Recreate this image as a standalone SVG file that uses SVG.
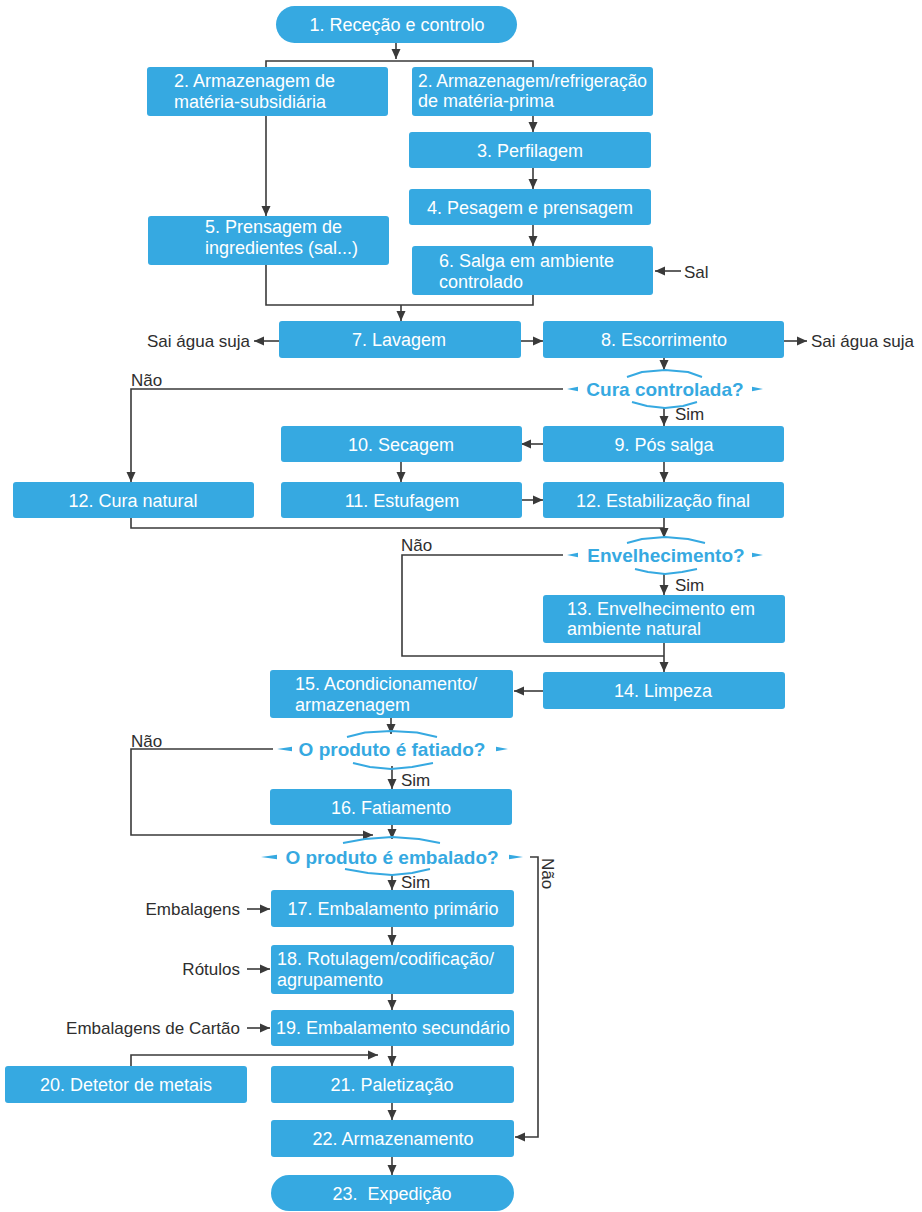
<svg xmlns="http://www.w3.org/2000/svg" width="922" height="1212" viewBox="0 0 922 1212">
  <defs>
    <marker id="arr" markerUnits="userSpaceOnUse" markerWidth="10" markerHeight="10" refX="10" refY="5" orient="auto">
      <path d="M0,0.5 L10,5 L0,9.5 z" fill="#3a3a3a"/>
    </marker>
    <style>
      .box { fill: #36A9E1; }
      .t { font-family: "Liberation Sans", Arial, sans-serif; font-size: 18px; fill: #ffffff; }
      .c { text-anchor: middle; }
      .lbl { font-family: "Liberation Sans", Arial, sans-serif; font-size: 17px; fill: #2e2e2e; }
      .q { font-family: "Liberation Sans", Arial, sans-serif; font-size: 19px; font-weight: bold; fill: #36A9E1; text-anchor: middle; }
      .ln { fill: none; stroke: #3a3a3a; stroke-width: 1.6; }
      .ar { marker-end: url(#arr); }
      .dia { fill: none; stroke: #36A9E1; stroke-width: 2; stroke-linejoin: round; }
      .tip { fill: #36A9E1; }
    </style>
  </defs>
  <rect width="922" height="1212" fill="#ffffff"/>

  <!-- connectors -->
  <g id="connectors">
    <path class="ln ar" d="M396,43 V59"/>
    <path class="ln" d="M266,67 V61 H533 V67"/>
    <path class="ln ar" d="M266,116 V216"/>
    <path class="ln ar" d="M533,116 V132"/>
    <path class="ln ar" d="M533,168 V189"/>
    <path class="ln ar" d="M533,225 V246"/>
    <path class="ln ar" d="M681,271 H655"/>
    <path class="ln" d="M266,265 V305 H533 V295"/>
    <path class="ln ar" d="M401,305 V321"/>
    <path class="ln ar" d="M279,341 H254"/>
    <path class="ln ar" d="M521,341 H543"/>
    <path class="ln ar" d="M784,341 H807"/>
    <path class="ln ar" d="M664,358 V370"/>
    <path class="ln ar" d="M563,389 H131 V482"/>
    <path class="ln ar" d="M664,408 V426"/>
    <path class="ln ar" d="M543,444 H521"/>
    <path class="ln ar" d="M401,462 V482"/>
    <path class="ln ar" d="M522,500 H543"/>
    <path class="ln ar" d="M664,462 V482"/>
    <path class="ln" d="M131,518 V528 H664"/>
    <path class="ln ar" d="M664,518 V538"/>
    <path class="ln" d="M563,555 H402 V656 H664"/>
    <path class="ln ar" d="M664,574 V595"/>
    <path class="ln ar" d="M664,643 V672"/>
    <path class="ln ar" d="M543,691 H514"/>
    <path class="ln ar" d="M391,718 V734"/>
    <path class="ln ar" d="M273,749 H131 V835 H373"/>
    <path class="ln ar" d="M392,766 V789"/>
    <path class="ln ar" d="M392,825 V839"/>
    <path class="ln ar" d="M530,857 H538 V1137 H515"/>
    <path class="ln ar" d="M392,875 V890"/>
    <path class="ln ar" d="M392,927 V945"/>
    <path class="ln ar" d="M392,994 V1010"/>
    <path class="ln ar" d="M392,1046 V1066"/>
    <path class="ln ar" d="M131,1066 V1055 H378"/>
    <path class="ln ar" d="M392,1103 V1120"/>
    <path class="ln ar" d="M392,1157 V1175"/>
    <path class="ln ar" d="M247,909 H270"/>
    <path class="ln ar" d="M247,969 H270"/>
    <path class="ln ar" d="M247,1028 H270"/>
  </g>

  <!-- side labels -->
  <g id="labels">
    <text class="lbl" x="684" y="278">Sal</text>
    <text class="lbl" x="147" y="347">Sai água suja</text>
    <text class="lbl" x="811" y="347">Sai água suja</text>
    <text class="lbl" x="131" y="386">Não</text>
    <text class="lbl" x="675" y="420">Sim</text>
    <text class="lbl" x="401" y="551">Não</text>
    <text class="lbl" x="675" y="591">Sim</text>
    <text class="lbl" x="131" y="747">Não</text>
    <text class="lbl" x="401" y="786">Sim</text>
    <text class="lbl" x="401" y="888">Sim</text>
    <text class="lbl" transform="translate(542,858) rotate(90)">Não</text>
    <text class="lbl" x="240" y="915" text-anchor="end">Embalagens</text>
    <text class="lbl" x="240" y="975" text-anchor="end">Rótulos</text>
    <text class="lbl" x="240" y="1034" text-anchor="end">Embalagens de Cartão</text>
  </g>

  <g id="n1">
    <rect class="box" x="276" y="6" width="241" height="37" rx="18.5"/>
    <text class="t c" x="397" y="31">1. Receção e controlo</text>
  </g>
  <g id="n2a">
    <rect class="box" x="147" y="67" width="241" height="49" rx="3"/>
    <text class="t" x="174" y="87">2. Armazenagem de</text>
    <text class="t" x="174" y="108">matéria-subsidiária</text>
  </g>
  <g id="n2b">
    <rect class="box" x="412" y="67" width="241" height="49" rx="3"/>
    <text class="t" x="418" y="87" textLength="229" lengthAdjust="spacingAndGlyphs">2. Armazenagem/refrigeração</text>
    <text class="t" x="418" y="107">de matéria-prima</text>
  </g>
  <g id="n3">
    <rect class="box" x="409" y="132" width="242" height="36" rx="3"/>
    <text class="t c" x="530" y="157">3. Perfilagem</text>
  </g>
  <g id="n4">
    <rect class="box" x="409" y="189" width="242" height="36" rx="3"/>
    <text class="t c" x="530" y="214">4. Pesagem e prensagem</text>
  </g>
  <g id="n5">
    <rect class="box" x="148" y="216" width="241" height="49" rx="3"/>
    <text class="t" x="205" y="233">5. Prensagem de</text>
    <text class="t" x="205" y="254">ingredientes (sal...)</text>
  </g>
  <g id="n6">
    <rect class="box" x="412" y="246" width="241" height="49" rx="3"/>
    <text class="t" x="439" y="267">6. Salga em ambiente</text>
    <text class="t" x="439" y="288">controlado</text>
  </g>
  <g id="n7">
    <rect class="box" x="279" y="321" width="242" height="37" rx="3"/>
    <text class="t c" x="399" y="346">7. Lavagem</text>
  </g>
  <g id="n8">
    <rect class="box" x="543" y="321" width="241" height="37" rx="3"/>
    <text class="t c" x="664" y="346">8. Escorrimento</text>
  </g>

  <g id="q1">
    <path class="dia" d="M627,377 L642,372 L665,370 L688,372 L702,377"/>
    <path class="dia" d="M632,402 L647,406 L665,408 L683,406 L697,402"/>
    <polygon class="tip" points="567,389 578,386.8 578,391.2"/>
    <polygon class="tip" points="763,389 752,386.8 752,391.2"/>
    <text class="q" x="665" y="396">Cura controlada?</text>
  </g>

  <g id="n9">
    <rect class="box" x="543" y="426" width="241" height="36" rx="3"/>
    <text class="t c" x="664" y="451">9. Pós salga</text>
  </g>
  <g id="n10">
    <rect class="box" x="281" y="426" width="241" height="36" rx="3"/>
    <text class="t c" x="401" y="451">10. Secagem</text>
  </g>
  <g id="n11">
    <rect class="box" x="281" y="482" width="241" height="36" rx="3"/>
    <text class="t c" x="402" y="507">11. Estufagem</text>
  </g>
  <g id="n12b">
    <rect class="box" x="543" y="482" width="241" height="36" rx="3"/>
    <text class="t c" x="663" y="507">12. Estabilização final</text>
  </g>
  <g id="n12a">
    <rect class="box" x="13" y="482" width="241" height="36" rx="3"/>
    <text class="t c" x="133" y="507">12. Cura natural</text>
  </g>

  <g id="q2">
    <path class="dia" d="M627,543 L642,539 L665,537 L688,539 L705,543"/>
    <path class="dia" d="M635,569 L648,572 L665,574 L682,572 L697,569"/>
    <polygon class="tip" points="567,555 578,552.8 578,557.2"/>
    <polygon class="tip" points="763,555 752,552.8 752,557.2"/>
    <text class="q" x="666" y="562">Envelhecimento?</text>
  </g>

  <g id="n13">
    <rect class="box" x="543" y="595" width="242" height="48" rx="3"/>
    <text class="t" x="567" y="615">13. Envelhecimento em</text>
    <text class="t" x="567" y="635">ambiente natural</text>
  </g>
  <g id="n14">
    <rect class="box" x="543" y="672" width="242" height="37" rx="3"/>
    <text class="t c" x="663" y="697">14. Limpeza</text>
  </g>
  <g id="n15">
    <rect class="box" x="270" y="670" width="243" height="48" rx="3"/>
    <text class="t" x="295" y="690">15. Acondicionamento/</text>
    <text class="t" x="295" y="711">armazenagem</text>
  </g>

  <g id="q3">
    <path class="dia" d="M347,737 L365,732.5 L391,731 L417,732.5 L437,737"/>
    <path class="dia" d="M353,763 L370,767 L391,769 L412,767 L433,763"/>
    <polygon class="tip" points="277,749 292,746.8 292,751.2"/>
    <polygon class="tip" points="508,749 496,746.8 496,751.2"/>
    <text class="q" x="392" y="756">O produto é fatiado?</text>
  </g>

  <g id="n16">
    <rect class="box" x="270" y="789" width="242" height="36" rx="3"/>
    <text class="t c" x="391" y="814">16. Fatiamento</text>
  </g>

  <g id="q4">
    <path class="dia" d="M343,843 L365,839 L392,837 L419,839 L440,843"/>
    <path class="dia" d="M345,869 L368,873 L392,875 L412,873 L430,869"/>
    <polygon class="tip" points="261,857 277,854.8 277,859.2"/>
    <polygon class="tip" points="523,857 509,854.8 509,859.2"/>
    <text class="q" x="392" y="864">O produto é embalado?</text>
  </g>

  <g id="n17">
    <rect class="box" x="271" y="890" width="243" height="37" rx="3"/>
    <text class="t c" x="393" y="915">17. Embalamento primário</text>
  </g>
  <g id="n18">
    <rect class="box" x="271" y="945" width="243" height="49" rx="3"/>
    <text class="t" x="277" y="965">18. Rotulagem/codificação/</text>
    <text class="t" x="277" y="986">agrupamento</text>
  </g>
  <g id="n19">
    <rect class="box" x="271" y="1010" width="243" height="36" rx="3"/>
    <text class="t c" x="393" y="1034">19. Embalamento secundário</text>
  </g>
  <g id="n20">
    <rect class="box" x="5" y="1066" width="242" height="37" rx="3"/>
    <text class="t c" x="126" y="1091">20. Detetor de metais</text>
  </g>
  <g id="n21">
    <rect class="box" x="271" y="1066" width="243" height="37" rx="3"/>
    <text class="t c" x="392" y="1091">21. Paletização</text>
  </g>
  <g id="n22">
    <rect class="box" x="271" y="1120" width="243" height="37" rx="3"/>
    <text class="t c" x="393" y="1145">22. Armazenamento</text>
  </g>
  <g id="n23">
    <rect class="box" x="271" y="1175" width="243" height="36" rx="18"/>
    <text class="t c" x="392" y="1200" xml:space="preserve">23.  Expedição</text>
  </g>
</svg>
